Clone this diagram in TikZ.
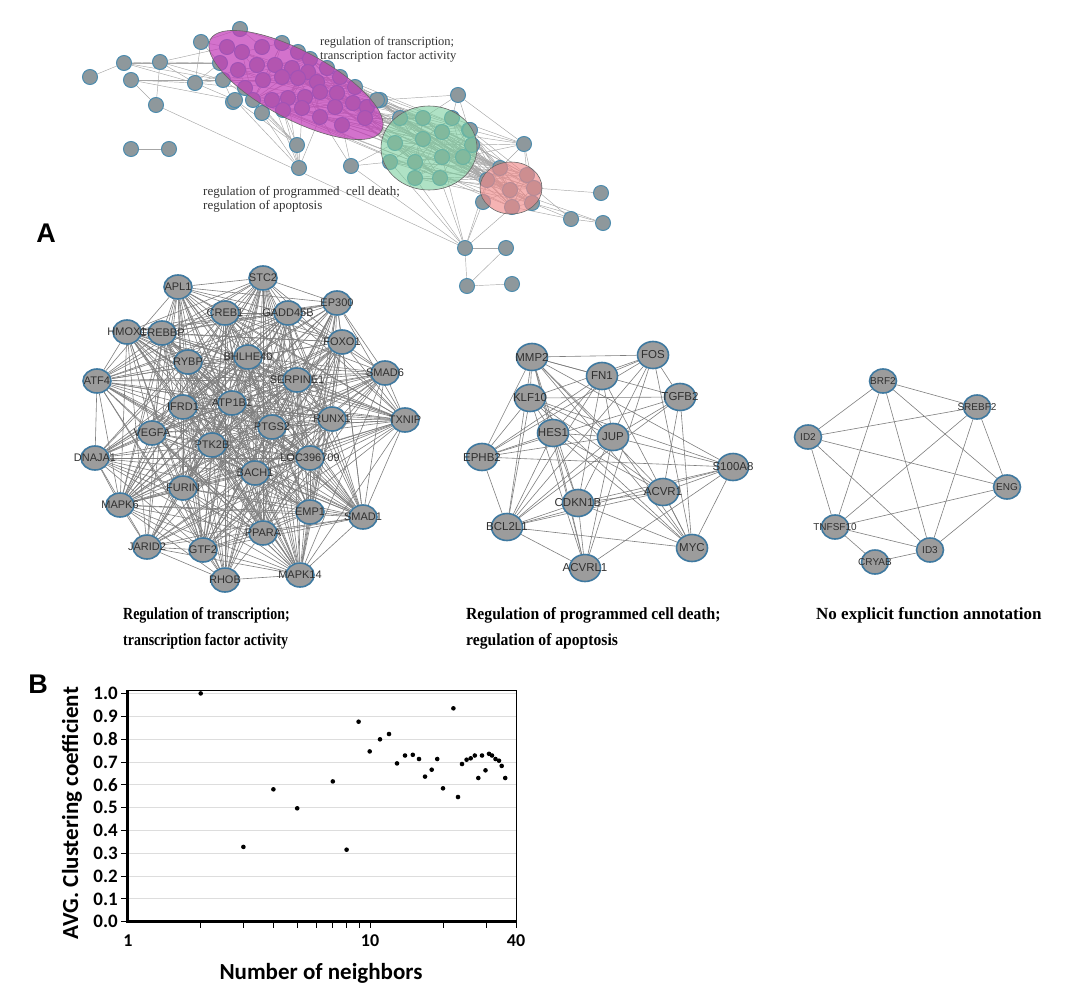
\documentclass[tikz,border=0pt]{standalone}
\usepackage{fontspec}
\setmainfont{Liberation Serif}
\setsansfont{Liberation Sans}
\newfontfamily\calibri{Carlito}
\usetikzlibrary{shapes.geometric}
\pgfdeclarelayer{bg}
\pgfdeclarelayer{fg}
\pgfsetlayers{bg,main,fg}
\definecolor{nodegray}{HTML}{9C9C9C}
\definecolor{nodeblue}{HTML}{3F79A0}
\definecolor{edgegray}{HTML}{7E7E7E}
\definecolor{lblgray}{HTML}{303030}
\definecolor{tgray}{HTML}{8E989C}
\definecolor{tblue}{HTML}{4D8CAE}
\definecolor{magc}{HTML}{C23CB8}
\definecolor{grnc}{HTML}{7ACF9E}
\definecolor{redc}{HTML}{F08A8A}
\definecolor{gridc}{HTML}{DDDDDD}
\tikzset{
  lblA/.style={font=\fontsize{11}{11}\selectfont\sffamily, text=lblgray, inner sep=0pt},
  lblB/.style={font=\fontsize{11.5}{11.5}\selectfont\sffamily, text=lblgray, inner sep=0pt},
  lblC/.style={font=\fontsize{10}{10}\selectfont\sffamily, text=lblgray, inner sep=0pt},
  gA/.style={ellipse, draw=nodeblue, fill=nodegray, line width=1.6pt, minimum width=28pt, minimum height=24pt, inner sep=0pt, label={[lblA]center:#1}},
  gB/.style={ellipse, draw=nodeblue, fill=nodegray, line width=1.6pt, minimum width=31pt, minimum height=27pt, inner sep=0pt, label={[lblB]center:#1}},
  gC/.style={ellipse, draw=nodeblue, fill=nodegray, line width=1.6pt, minimum width=27pt, minimum height=24pt, inner sep=0pt, label={[lblC]center:#1}},
  tn/.style={circle, draw=tblue, fill=tgray, line width=1pt, minimum size=15pt, inner sep=0pt},
  eA/.style={draw=edgegray, line width=0.6pt},
  eT/.style={draw=gray!70, line width=0.45pt},
  capt/.style={font=\fontsize{17}{25}\selectfont\bfseries, anchor=base west, inner sep=0pt},
  toptxt/.style={font=\fontsize{12.5}{14}\selectfont, text=black!80, align=left, anchor=north west, inner sep=0pt},
  panel/.style={font=\fontsize{27}{27}\selectfont\sffamily\bfseries, inner sep=0pt},
  ytl/.style={font=\fontsize{19}{19}\selectfont\calibri\bfseries, anchor=east, inner sep=0pt},
  xtl/.style={font=\fontsize{18}{18}\selectfont\calibri\bfseries, inner sep=0pt},
}
\begin{document}
\begin{tikzpicture}[x=1pt,y=-1pt]
\useasboundingbox (0,0) rectangle (1067,988);

%================ TOP OVERVIEW NETWORK =================
\foreach \p [count=\i] in {(240,29),(201,42),(124,63),(160,62),(90,77),(131,80),(195,83),(156,105),(233,102),(380,100),(131,149),(169,149),(297,145),(299,168),(351,166),(458,95),(469,130),(524,144),(483,202),(601,193),(571,219),(603,223),(465,248),(506,248),(467,286),(512,284)}
  \node[tn] (t\i) at \p {};
\foreach \p [count=\i] in {(227,47),(242,52),(262,47),(282,43),(298,52),(310,59),(220,63),(238,70),(257,65),(275,65),(292,68),(308,72),(327,68),(223,80),(245,88),(263,80),(282,77),(298,78),(317,82),(340,77),(235,100),(253,100),(272,100),(288,98),(305,97),(320,92),(337,93),(355,87),(262,113),(283,110),(302,108),(320,117),(335,107),(353,103),(367,107),(377,100),(342,125),(365,118)}
  \node[tn] (m\i) at \p {};
\foreach \p [count=\i] in {(400,118),(423,118),(452,118),(470,130),(442,132),(423,139),(395,143),(472,145),(390,162),(415,162),(442,157),(463,157),(415,178),(440,178)}
  \node[tn] (g\i) at \p {};
\foreach \p [count=\i] in {(500,168),(527,175),(487,180),(510,190),(534,188),(512,207),(532,203)}
  \node[tn] (r\i) at \p {};

\begin{pgfonlayer}{bg}
  \foreach \i in {1,...,38}{\foreach \j in {1,...,38}{\ifnum\j>\i
     \pgfmathtruncatemacro\k{mod(\i*5+\j*3+\i*\j,6)}\ifnum\k=0 \draw[eT] (m\i) -- (m\j);\fi\fi}}
  \foreach \i in {18,...,38}{\foreach \j in {1,...,14}{
     \pgfmathtruncatemacro\k{mod(\i*3+\j*7+\i*\j,4)}\ifnum\k=0 \draw[eT] (m\i) -- (g\j);\fi}}
  \foreach \i in {1,...,14}{\foreach \j in {1,...,14}{\ifnum\j>\i
     \pgfmathtruncatemacro\k{mod(\i*2+\j*5,3)}\ifnum\k=0 \draw[eT] (g\i) -- (g\j);\fi\fi}}
  \foreach \i in {1,...,14}{\foreach \j in {1,...,7}{
     \pgfmathtruncatemacro\k{mod(\i+\j*3,2)}\ifnum\k=0 \draw[eT] (g\i) -- (r\j);\fi}}
  \foreach \i in {1,...,7}{\foreach \j in {1,...,7}{\ifnum\j>\i \draw[eT] (r\i) -- (r\j);\fi}}
  \foreach \i in {28,32,34,35,36,38}{\foreach \j in {1,3,4}{\draw[eT] (m\i) -- (r\j);}}
  \foreach \a/\b in {t5/t3,t3/t7,t3/m7,t3/m14,t3/t4,t4/t7,t4/t8,t4/m1,t4/m7,t4/m14,t6/t7,t6/m14,t6/m21,t6/t8,
     t2/t1,t2/t7,t2/m1,t2/m7,t1/m4,t1/m3,t7/m14,t7/m7,t7/m21,t7/m15,t7/m8,t8/t23,t11/t12,
     t13/m29,t13/m30,t13/m21,t13/m22,t13/m15,t13/t14,
     t14/m29,t14/m30,t14/m31,t14/m21,t14/m23,t14/m24,t14/m32,t9/m21,t9/m14,
     t15/g7,t15/g9,t15/m37,t15/m32,t15/t23,
     t10/t16,t10/g1,t10/g2,t16/g3,t16/t17,t16/g2,t16/t18,t17/g4,t17/r1,t17/g8,
     t18/r1,t18/r2,t18/g4,t18/g8,t18/g3,t18/g5,t18/g12,t18/r5,
     t19/r3,t19/r4,t19/t23,t23/t24,t23/t25,t23/g13,t23/g14,t23/r6,t23/g11,t23/g9,t23/r3,
     t24/t25,t25/t26,t21/r6,t21/r5,t21/t22,t21/r7,t20/r5,t22/r7,t22/r4}
     \draw[eT] (\a) -- (\b);
\end{pgfonlayer}

\begin{pgfonlayer}{fg}
  \draw[draw=black!60, line width=0.6pt, fill=magc, fill opacity=0.72, rotate around={-28:(296,85)}] (296,85) ellipse [x radius=97, y radius=34];
  \draw[draw=black!60, line width=0.6pt, fill=grnc, fill opacity=0.6] (429,148) ellipse [x radius=48, y radius=42];
  \draw[draw=black!60, line width=0.6pt, fill=redc, fill opacity=0.65] (511,188) ellipse [x radius=31, y radius=26];
\end{pgfonlayer}

\node[toptxt] (tt1) at (320,36) {regulation of transcription;\\transcription factor activity};
\node[toptxt, font=\fontsize{13}{14.5}\selectfont] (tt2) at (203,186) {regulation of programmed\ \ cell death;\\regulation of apoptosis};

\node[panel] (pA) at (46,233) {A};
\node[panel] (pB) at (38,684) {B};

%================ NETWORK 1 =================
\node[gA=APL1] (APL1) at (178,287) {};
\node[gA=STC2] (STC2) at (263,278) {};
\node[gA=EP300] (EP300) at (337,303) {};
\node[gA=CREB1] (CREB1) at (225,313) {};
\node[gA=GADD45B] (GADD45B) at (288,313) {};
\node[gA=HMOX1] (HMOX1) at (127,332) {};
\node[gA=CREBBP] (CREBBP) at (162,333) {};
\node[gA=FOXO1] (FOXO1) at (342,342) {};
\node[gA=RYBP] (RYBP) at (188,362) {};
\node[gA=BHLHE40] (BHLHE40) at (248,357) {};
\node[gA=SMAD6] (SMAD6) at (385,373) {};
\node[gA=SERPINE1] (SERPINE1) at (297,380) {};
\node[gA=ATF4] (ATF4) at (97,381) {};
\node[gA=IFRD1] (IFRD1) at (183,407) {};
\node[gA=ATP1B1] (ATP1B1) at (232,403) {};
\node[gA=RUNX1] (RUNX1) at (332,419) {};
\node[gA=TXNIP] (TXNIP) at (405,420) {};
\node[gA=PTGS2] (PTGS2) at (272,427) {};
\node[gA=VEGFA] (VEGFA) at (152,433) {};
\node[gA=PTK2B] (PTK2B) at (212,445) {};
\node[gA=DNAJA1] (DNAJA1) at (95,458) {};
\node[gA=LOC396709] (LOC396709) at (310,458) {};
\node[gA=BACH1] (BACH1) at (255,473) {};
\node[gA=FURIN] (FURIN) at (183,488) {};
\node[gA=MAPK6] (MAPK6) at (120,505) {};
\node[gA=EMP1] (EMP1) at (310,512) {};
\node[gA=SMAD1] (SMAD1) at (363,517) {};
\node[gA=PPARA] (PPARA) at (263,533) {};
\node[gA=JARID2] (JARID2) at (147,547) {};
\node[gA=GTF2] (GTF2) at (203,550) {};
\node[gA=RHOB] (RHOB) at (225,580) {};
\node[gA=MAPK14] (MAPK14) at (300,575) {};
\def\netA{APL1,STC2,EP300,CREB1,GADD45B,HMOX1,CREBBP,FOXO1,RYBP,BHLHE40,SMAD6,SERPINE1,ATF4,IFRD1,ATP1B1,RUNX1,TXNIP,PTGS2,VEGFA,PTK2B,DNAJA1,LOC396709,BACH1,FURIN,MAPK6,EMP1,SMAD1,PPARA,JARID2,GTF2,RHOB,MAPK14}
\begin{pgfonlayer}{bg}
\foreach \a [count=\i] in \netA {
  \foreach \b [count=\j] in \netA {
    \ifnum\j>\i
      \pgfmathtruncatemacro\k{mod(\i*\i*3+\j*\j*5+\i*\j,10)}
      \ifnum\k<9 \draw[eA] (\a) -- (\b);\fi
    \fi}}
\end{pgfonlayer}

%================ NETWORK 2 =================
\node[gB=MMP2] (MMP2) at (532,357) {};
\node[gB=FOS] (FOS) at (653,355) {};
\node[gB=FN1] (FN1) at (602,376) {};
\node[gB=KLF10] (KLF10) at (530,398) {};
\node[gB=TGFB2] (TGFB2) at (680,397) {};
\node[gB=HES1] (HES1) at (553,433) {};
\node[gB=JUP] (JUP) at (613,437) {};
\node[gB=EPHB2] (EPHB2) at (482,457) {};
\node[gB=S100A8] (S100A8) at (733,467) {};
\node[gB=ACVR1] (ACVR1) at (663,492) {};
\node[gB=CDKN1B] (CDKN1B) at (578,503) {};
\node[gB=BCL2L1] (BCL2L1) at (507,527) {};
\node[gB=MYC] (MYC) at (692,548) {};
\node[gB=ACVRL1] (ACVRL1) at (585,568) {};
\def\netB{MMP2,FOS,FN1,KLF10,TGFB2,HES1,JUP,EPHB2,S100A8,ACVR1,CDKN1B,BCL2L1,MYC,ACVRL1}
\begin{pgfonlayer}{bg}
\foreach \a [count=\i] in \netB {
  \foreach \b [count=\j] in \netB {
    \ifnum\j>\i
      \pgfmathtruncatemacro\k{mod(\i*\i*2+\j*\j*3+\i*\j,10)}
      \ifnum\k<8 \draw[eA] (\a) -- (\b);\fi
    \fi}}
\end{pgfonlayer}

%================ NETWORK 3 =================
\node[gC=BRF2] (BRF2) at (883,381) {};
\node[gC=SREBF2] (SREBF2) at (977,407) {};
\node[gC=ID2] (ID2) at (808,437) {};
\node[gC=ENG] (ENG) at (1007,487) {};
\node[gC=TNFSF10] (TNFSF10) at (835,527) {};
\node[gC=ID3] (ID3) at (930,550) {};
\node[gC=CRYAB] (CRYAB) at (875,562) {};
\begin{pgfonlayer}{bg}
\foreach \a/\b in {BRF2/SREBF2,BRF2/ID2,BRF2/ENG,BRF2/TNFSF10,BRF2/ID3,ID2/SREBF2,ID2/ENG,ID2/TNFSF10,ID2/ID3,
   SREBF2/TNFSF10,SREBF2/ID3,SREBF2/ENG,ENG/TNFSF10,ENG/ID3,TNFSF10/ID3,TNFSF10/CRYAB,CRYAB/ID3}
  \draw[eA] (\a) -- (\b);
\end{pgfonlayer}

%================ CAPTIONS =================
\node[capt] (c1a) at (123,619) {\scalebox{0.82}[1]{Regulation of transcription;}};
\node[capt] (c1b) at (123,645) {\scalebox{0.82}[1]{transcription factor activity}};
\node[capt] (c2a) at (466,619) {\scalebox{0.92}[1]{Regulation of programmed cell death;}};
\node[capt] (c2b) at (466,645) {\scalebox{0.92}[1]{regulation of apoptosis}};
\node[capt] (c3a) at (816,619) {\scalebox{1.0}[1]{No explicit function annotation}};

%================ PLOT B =================
\foreach \k in {1,...,10}
  \draw[gridc, line width=0.8pt] (128,{921.7-22.83*\k}) -- (516,{921.7-22.83*\k});
\draw[black, line width=1pt] (127.6,690) rectangle (516,921.7);
\draw[black, line width=2.6pt] (127.6,690) -- (127.6,921.7) -- (516,921.7);
\foreach \k in {0,...,10}
  \draw[black, line width=0.8pt] (121,{921.7-22.83*\k}) -- (127.6,{921.7-22.83*\k});
\foreach \n in {2,3,4,5,6,7,8,9,10,20,30,40}
  \draw[black, line width=0.8pt] ({127.6+242.7*log10(\n)},921.7) -- ({127.6+242.7*log10(\n)},928);
\foreach \k in {0,...,9}
  \node[ytl] (yl\k) at (118,{921.7-22.83*\k}) {0.\k};
\node[ytl] (yl10) at (118,{921.7-228.3}) {1.0};
\node[xtl] (xl1) at (128,941) {1};
\node[xtl] (xl10) at (370,941) {10};
\node[xtl] (xl40) at (516,941) {40};
\node[font=\fontsize{23}{23}\selectfont\calibri\bfseries, rotate=90, inner sep=0pt] (ylab) at (72,813) {AVG. Clustering coefficient};
\node[font=\fontsize{23}{23}\selectfont\calibri\bfseries, inner sep=0pt] (xlab) at (321,973) {Number of neighbors};
\foreach \x/\y in {200.7/693.4,243.4/846.9,273.4/789.3,297.2/808.3,332.8/781.4,346.6/849.7,358.6/721.7,369.7/751.4,380/739.3,389/734,397/763.4,405/755.5,412.8/754.8,419/759,425/776.6,431.7/769.7,437.2/759,443/788.3,453.4/708.3,458/797,462/764,466.6/759.7,470.7/758.3,474.8/755.5,478.3/778,482/755.5,485.5/770.3,489/753.8,492/755.5,495.5/759,499/760.7,501.7/765.9,505.2/778}
  \fill[black] (\x,\y) circle (2.3pt);
\end{tikzpicture}
\end{document}
